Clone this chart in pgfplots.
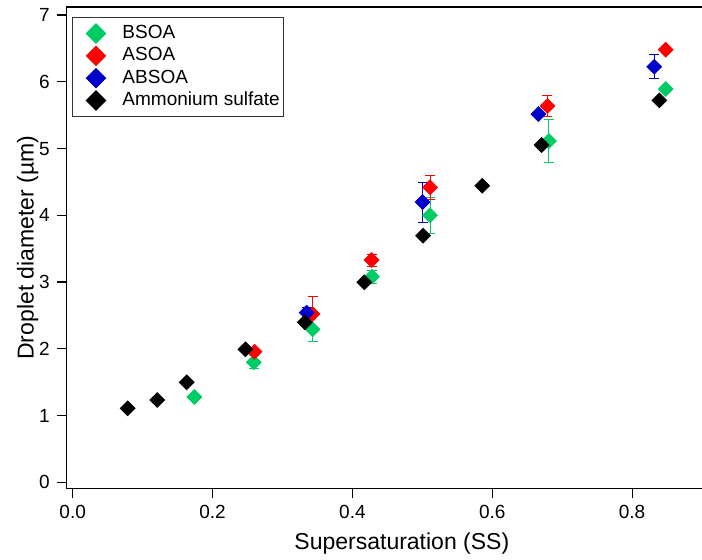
\documentclass[border=0pt]{standalone}
\usepackage{pgfplots}
\pgfplotsset{compat=1.18}
\usepackage{fontspec}
\setmainfont{Liberation Sans}
\definecolor{cgreen}{RGB}{0,204,102}
\definecolor{cred}{RGB}{255,0,0}
\definecolor{cblue}{RGB}{0,0,204}
\begin{document}
\begin{tikzpicture}
\path[use as bounding box] (-33.35pt,-35.85pt) rectangle (317.65pt,244.15pt);
\begin{axis}[
  at={(0pt,0pt)}, anchor=south west,
  scale only axis, width=335.15pt, height=240.65pt,
  xmin=-0.00858, xmax=0.95, ymin=-0.0899, ymax=7.121,
  axis line style={line width=0.6pt},
  tick style={black, line width=0.6pt},
  tick align=outside, major tick length=5pt,
  xtick={0,0.2,0.4,0.6,0.8}, xticklabels={0.0,0.2,0.4,0.6,0.8},
  ytick={0,1,2,3,4,5,6,7},
  xtick pos=bottom, ytick pos=left,
  /pgf/number format/assume math mode=true,
  ticklabel style={font=\fontsize{9.5}{11}\selectfont},
  label style={font=\fontsize{11.5}{13}\selectfont},
  xlabel={Supersaturation (SS)},
  ylabel={Droplet diameter (µm)},
  ylabel shift=-6.5pt,
  legend style={at={(axis description cs:0,1)}, anchor=north west,
    xshift=2.8pt, yshift=-5.15pt, draw=black!80, line width=0.5pt,
    inner xsep=1pt, inner ysep=2.3pt, font=\fontsize{9.5}{11}\selectfont,
    row sep=0pt,
    nodes={inner xsep=1pt, inner ysep=1.075pt, text height=7pt, text depth=2pt}},
  legend cell align=left,
  legend image code/.code={\path (-10.35pt,0pt) (12pt,0pt);
    \draw[#1,mark size=3.4pt] plot coordinates {(0pt,0pt)};},
]
% error bars
\addplot[only marks, mark=none, forget plot, color=cgreen,
  error bars/.cd, y dir=both, y explicit, error mark=|,
  error mark options={mark size=2.5pt, line width=0.5pt, cgreen},
  error bar style={line width=0.5pt, cgreen}]
  table[x index=0, y index=1, y error index=2] {
x y e
0.259 1.798 0.10
0.343 2.292 0.19
0.428 3.080 0.10
0.511 4.000 0.27
0.681 5.113 0.32
};
\addplot[only marks, mark=none, forget plot, color=cred,
  error bars/.cd, y dir=both, y explicit, error mark=|,
  error mark options={mark size=2.5pt, line width=0.5pt, cred},
  error bar style={line width=0.5pt, cred}]
  table[x index=0, y index=1, y error index=2] {
x y e
0.343 2.521 0.26
0.4275 3.330 0.09
0.511 4.419 0.18
0.679 5.637 0.157
};
\addplot[only marks, mark=none, forget plot, color=cblue,
  error bars/.cd, y dir=both, y explicit, error mark=|,
  error mark options={mark size=2.5pt, line width=0.5pt, cblue},
  error bar style={line width=0.5pt, cblue}]
  table[x index=0, y index=1, y error index=2] {
x y e
0.3346 2.541 0.085
0.5004 4.199 0.30
0.8316 6.226 0.18
};
% markers
\addplot[only marks, mark=square*, mark size=2.6pt, mark options={rotate=45}, color=cgreen] table {
x y
0.174 1.278
0.259 1.798
0.343 2.292
0.428 3.080
0.511 4.000
0.681 5.113
0.848 5.892
};
\addlegendentry{BSOA}
\addplot[only marks, mark=square*, mark size=2.6pt, mark options={rotate=45}, color=cred] table {
x y
0.260 1.957
0.343 2.521
0.4275 3.330
0.511 4.419
0.679 5.637
0.848 6.481
};
\addlegendentry{ASOA}
\addplot[only marks, mark=square*, mark size=2.6pt, mark options={rotate=45}, color=cblue] table {
x y
0.3346 2.541
0.5004 4.199
0.666 5.517
0.8316 6.226
};
\addlegendentry{ABSOA}
\addplot[only marks, mark=square*, mark size=2.6pt, mark options={rotate=45}, color=black] table {
x y
0.0786 1.109
0.121 1.233
0.163 1.498
0.247 1.993
0.332 2.397
0.417 2.996
0.501 3.695
0.5857 4.444
0.6706 5.053
0.839 5.723
};
\addlegendentry{Ammonium sulfate}
\end{axis}
\end{tikzpicture}
\end{document}
